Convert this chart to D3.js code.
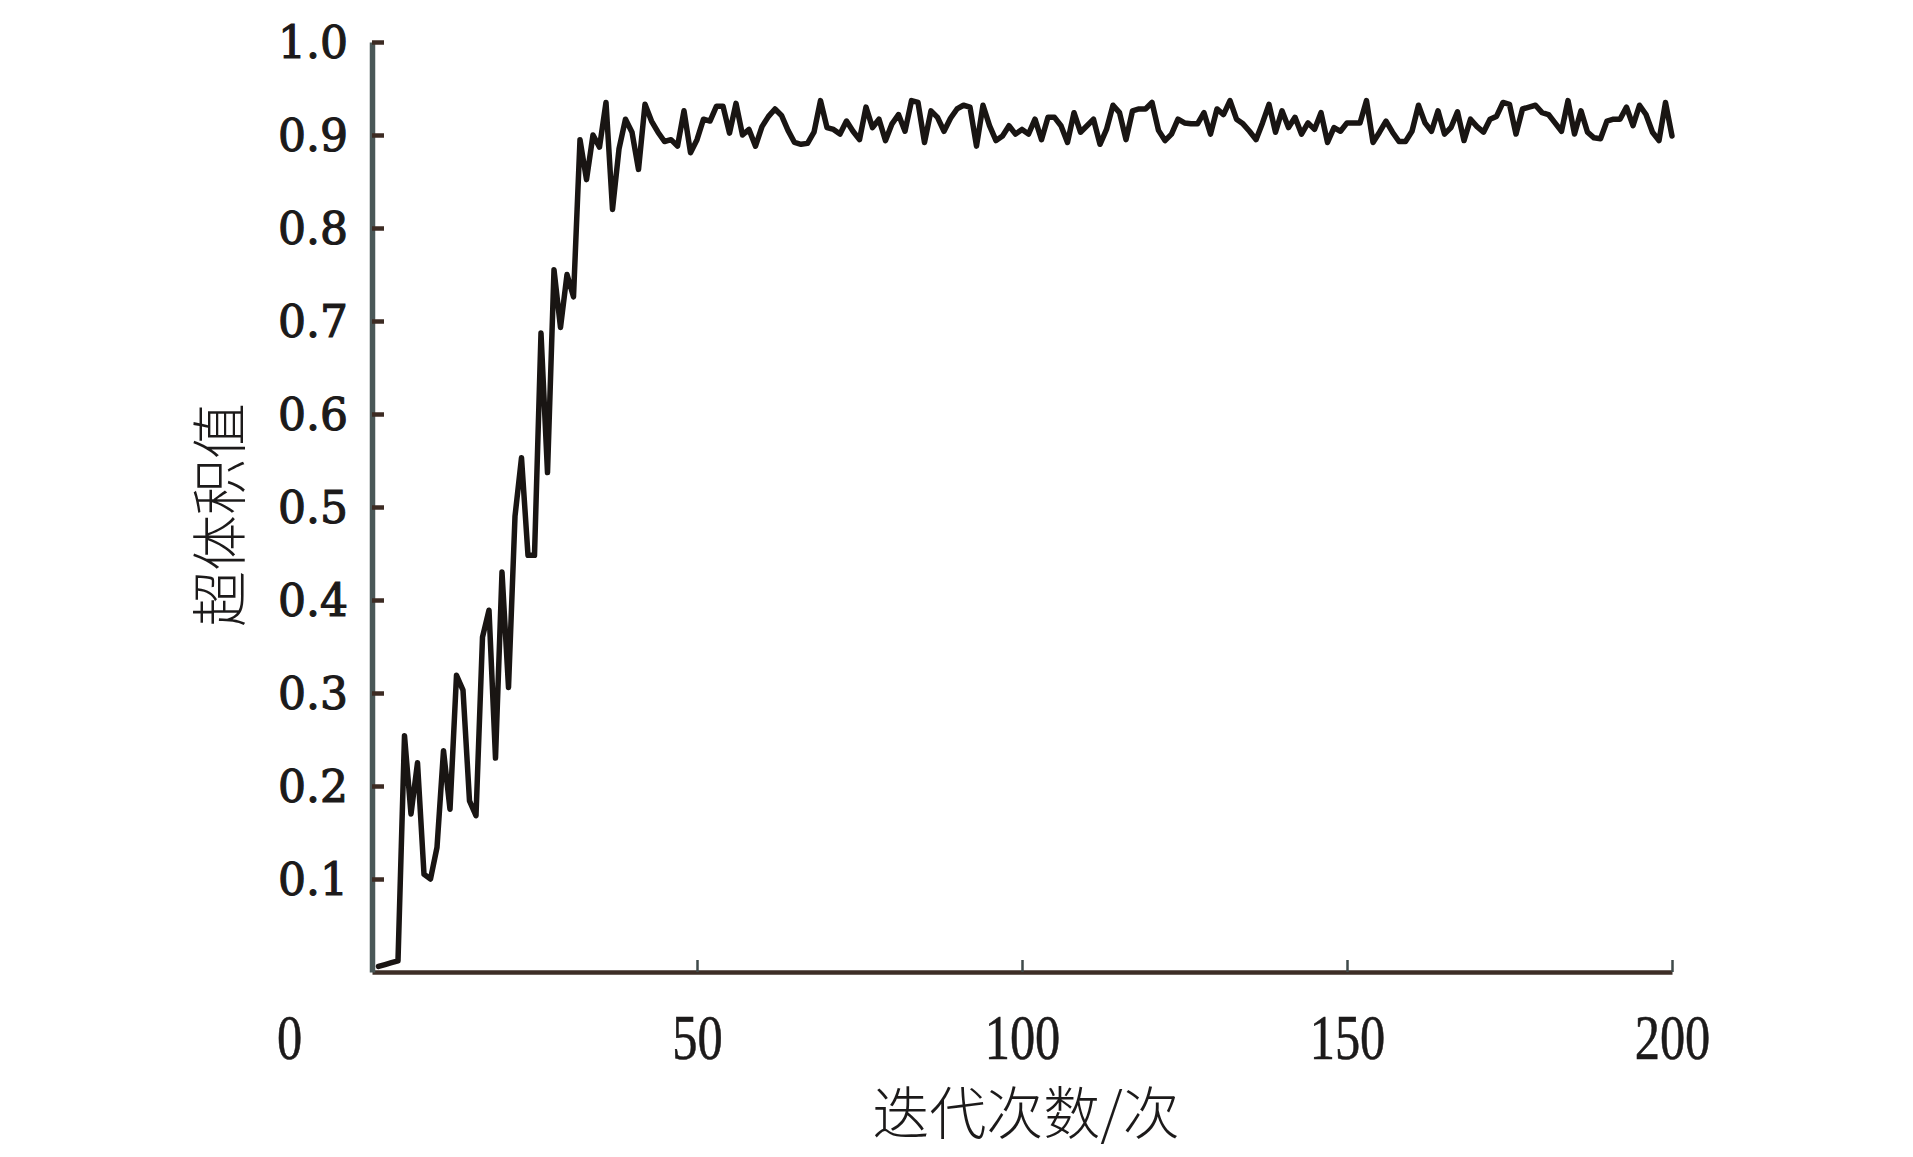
<!DOCTYPE html>
<html>
<head>
<meta charset="utf-8">
<script src="https://cdn.jsdelivr.net/npm/d3@7/dist/d3.min.js"></script>
<style>
  html, body { margin: 0; padding: 0; background: #ffffff; }
  svg { display: block; }
</style>
</head>
<body>
<svg id="chart" width="1913" height="1157"></svg>
<script>
// ---- data ----
const iterations = d3.range(1, 201);
const hypervolume = [
  0.006, 0.008, 0.010, 0.012, 0.254, 0.170, 0.225, 0.105, 0.100, 0.134,
  0.238, 0.175, 0.319, 0.303, 0.184, 0.168, 0.360, 0.389, 0.230, 0.430,
  0.306, 0.490, 0.553, 0.448, 0.448, 0.687, 0.537, 0.755, 0.693, 0.750,
  0.726, 0.895, 0.852, 0.900, 0.887, 0.935, 0.820, 0.885, 0.917, 0.903,
  0.863, 0.933, 0.915, 0.903, 0.893, 0.895, 0.888, 0.926, 0.881, 0.895,
  0.917, 0.915, 0.931, 0.931, 0.902, 0.934, 0.900, 0.906, 0.888, 0.909,
  0.920, 0.928, 0.921, 0.905, 0.892, 0.890, 0.891, 0.903, 0.937, 0.908,
  0.906, 0.901, 0.915, 0.904, 0.895, 0.930, 0.908, 0.917, 0.894, 0.912,
  0.922, 0.904, 0.937, 0.935, 0.892, 0.926, 0.919, 0.904, 0.918, 0.928,
  0.932, 0.930, 0.888, 0.932, 0.910, 0.894, 0.899, 0.910, 0.901, 0.906,
  0.901, 0.917, 0.895, 0.919, 0.919, 0.910, 0.892, 0.924, 0.903, 0.910,
  0.917, 0.890, 0.906, 0.932, 0.924, 0.895, 0.926, 0.928, 0.928, 0.935,
  0.905, 0.894, 0.901, 0.917, 0.913, 0.912, 0.912, 0.924, 0.901, 0.928,
  0.922, 0.937, 0.917, 0.912, 0.904, 0.895, 0.913, 0.933, 0.903, 0.926,
  0.908, 0.919, 0.901, 0.913, 0.906, 0.924, 0.892, 0.908, 0.904, 0.913,
  0.913, 0.913, 0.937, 0.892, 0.903, 0.915, 0.903, 0.893, 0.893, 0.904,
  0.932, 0.913, 0.904, 0.926, 0.901, 0.908, 0.925, 0.894, 0.917, 0.909,
  0.903, 0.917, 0.920, 0.935, 0.933, 0.901, 0.928, 0.930, 0.932, 0.924,
  0.922, 0.913, 0.904, 0.937, 0.901, 0.926, 0.903, 0.897, 0.896, 0.915,
  0.917, 0.917, 0.930, 0.910, 0.932, 0.922, 0.903, 0.894, 0.935, 0.899
];
const xTicks = [0, 50, 100, 150, 200];
const yTicks = [0.1, 0.2, 0.3, 0.4, 0.5, 0.6, 0.7, 0.8, 0.9, 1.0];
const xTitle = "迭代次数/次";
const yTitle = "超体积值";

// ---- layout ----
const svg = d3.select("#chart");
const x = d3.scaleLinear().domain([0, 200]).range([372, 1672]);
const y = d3.scaleLinear().domain([0, 1]).range([972, 42]);

// X axis
const xAxis = svg.append("g")
  .attr("transform", `translate(0,${y(0)})`)
  .call(d3.axisBottom(x).tickValues(xTicks).tickSizeInner(-12).tickSizeOuter(0).tickPadding(0).tickFormat(d3.format("d")));
xAxis.select(".domain").attr("stroke", "#3d2e26").attr("stroke-width", 4.5);
xAxis.selectAll(".tick line").attr("stroke", "#3f4a4a").attr("stroke-width", 2.5);
xAxis.selectAll(".tick text")
  .attr("font-family", "'Liberation Serif', 'Times New Roman', serif")
  .attr("font-size", 63)
  .attr("fill", "#1c1a1a")
  .attr("stroke", "#1c1a1a")
  .attr("stroke-width", 0.6)
  .attr("y", 87)
  .attr("dy", null)
  .attr("transform", d => d === 0 ? "translate(-83,0) scale(0.8,1)" : "scale(0.8,1)");
xAxis.selectAll(".tick").filter(d => d === 0).select("line").remove();

// Y axis
const yAxis = svg.append("g")
  .attr("transform", `translate(${x(0)},0)`)
  .call(d3.axisLeft(y).tickValues(yTicks).tickSizeInner(-12).tickSizeOuter(0).tickPadding(24).tickFormat(d3.format(".1f")));
yAxis.select(".domain").attr("stroke", "#4a5858").attr("stroke-width", 5.5);
yAxis.selectAll(".tick line").attr("stroke", "#3c2b23").attr("stroke-width", 4.5);
yAxis.selectAll(".tick text")
  .attr("font-family", "'DejaVu Serif', serif")
  .attr("font-size", 44)
  .attr("fill", "#1c1a1a")
  .attr("stroke", "#1c1a1a")
  .attr("stroke-width", 1.2)
  .attr("dy", "0.36em");

// line
const line = d3.line()
  .x((d, i) => x(iterations[i]))
  .y(d => y(d))
  .curve(d3.curveLinear);
svg.append("path")
  .datum(hypervolume)
  .attr("fill", "none")
  .attr("stroke", "#191513")
  .attr("stroke-width", 5.5)
  .attr("stroke-linejoin", "round")
  .attr("stroke-linecap", "round")
  .attr("d", line);

// titles
svg.append("text")
  .attr("x", 1026)
  .attr("y", 1134)
  .attr("text-anchor", "middle")
  .attr("font-family", "'Noto Sans CJK SC', sans-serif")
  .attr("font-size", 57)
  .attr("font-weight", 300)
  .attr("fill", "#1c1a1a")
  .text(xTitle);

svg.append("text")
  .attr("transform", "translate(240,515) rotate(-90)")
  .attr("text-anchor", "middle")
  .attr("font-family", "'Noto Sans CJK SC', sans-serif")
  .attr("font-size", 56)
  .attr("font-weight", 300)
  .attr("fill", "#1c1a1a")
  .text(yTitle);
</script>
</body>
</html>
